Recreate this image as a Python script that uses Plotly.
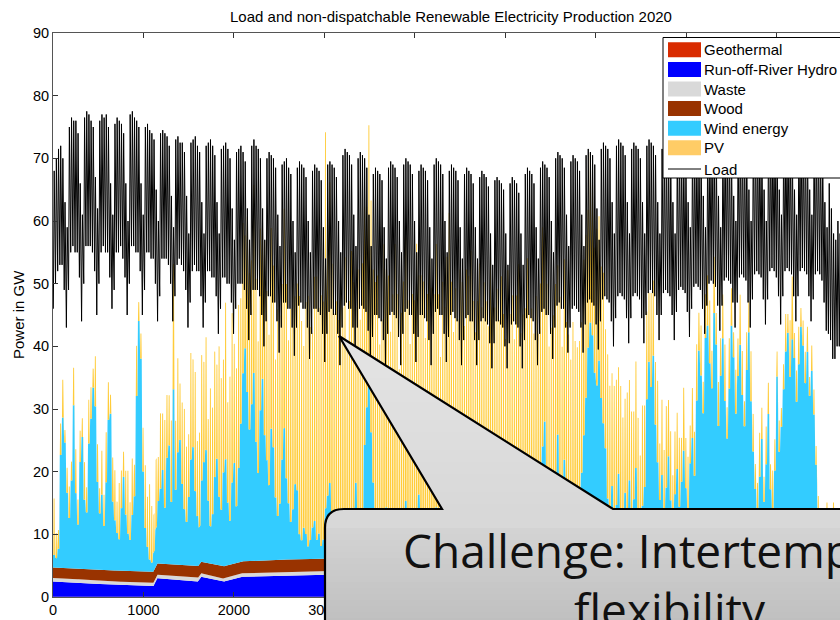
import plotly.graph_objects as go

# ---------------- data ----------------
# daily load maximum (GW), weeks of 7 days (Mon..Sun)
load_peak_gw = [
    68, 70, 71.5, 72, 70, 63, 59,
    75, 76.5, 76, 76, 74, 66, 61,
    76.5, 77.5, 77, 76, 75, 67, 62,
    76, 77, 76.5, 77, 75, 66, 61,
    75.5, 76.5, 76, 75.5, 74, 66, 60,
    77, 77.5, 76.5, 76, 75, 66, 61,
    75, 75.5, 74.5, 74, 73, 65, 60,
    74, 74.5, 74, 73.5, 72, 64, 59,
    73, 73.5, 72.5, 72.5, 71, 64, 58,
    72.5, 73, 73.5, 72, 71, 63, 58,
    72, 72.5, 73, 72, 70.5, 63, 58,
    71.5, 72, 72.5, 71.5, 70, 62, 57,
    71, 71.5, 72, 71, 69.5, 62, 57,
    72, 73, 72, 71.5, 70, 62, 57,
    70, 71, 70.5, 70, 68.5, 61, 56,
    69, 69.5, 70, 68.5, 67.5, 60, 55,
    68.5, 69.5, 69, 68.5, 67, 60, 55,
    68, 69, 68.5, 68, 66.5, 59, 54,
    69, 69.5, 69, 68.5, 67, 60, 55,
    70.5, 71.5, 71, 70.5, 69, 61, 56,
    70, 71, 70.5, 70, 68.5, 61, 56,
    67.5, 68.5, 68, 67.5, 66.5, 59, 54,
    68.5, 69.5, 69, 68.5, 67, 60, 55,
    69, 70, 69.5, 69, 67.5, 60, 55,
    68, 69, 68.5, 68, 66.5, 59, 54,
    69, 70, 69.5, 69, 67.5, 60, 55,
    68, 69, 68.5, 68, 66.5, 59, 54,
    67.5, 68.5, 68, 67.5, 66, 59, 54,
    67, 68, 67.5, 67, 65.5, 58, 53,
    66.5, 67, 66.5, 66, 65, 58, 53,
    66, 67, 66.5, 66, 64.5, 58, 53,
    67.5, 68.5, 68, 67.5, 66, 59, 54,
    68.5, 69.5, 69, 68.5, 67, 60, 55,
    70, 71, 70.5, 70, 68.5, 61, 56,
    69.5, 70.5, 70, 69.5, 68, 61, 56,
    70.5, 71.5, 71, 70.5, 69, 62, 57,
    71.5, 72.5, 72, 71.5, 70, 63, 58,
    72, 73, 72.5, 72, 70.5, 63, 58,
    71.5, 72.5, 72, 71.5, 70, 63, 58,
    72, 73, 72.5, 72, 70.5, 63, 58,
    71.5, 72.5, 72, 71.5, 70, 63, 58,
    71.5, 72.5, 72, 71.5, 70, 63, 59,
    72, 73, 72.5, 72, 71, 64, 59,
    72.5, 73.5, 73, 72.5, 71, 64, 59,
    72.5, 73.5, 73, 72.5, 71.5, 64, 60,
    73, 74, 73.5, 73, 72, 65, 60,
    73.5, 74.5, 74, 73.5, 72, 65, 60,
    73.5, 74.5, 74, 74, 72.5, 65, 61,
    73.5, 74.5, 74, 73.5, 72, 65, 61,
    73.5, 74.5, 74, 73.5, 72, 65, 61,
    72.5, 73.5, 73, 72, 70, 63, 59,
    66, 62, 58, 57, 60, 58, 56,
    60,
]

# daily load minimum (GW), early morning
load_trough_gw = [
    46, 50, 52, 53, 53, 49, 43,
    49, 55, 56, 55, 55, 51, 44,
    50, 56, 56, 56, 55, 52, 45,
    50, 55, 56, 55, 55, 51, 46,
    49, 55, 55, 56, 54, 51, 45,
    50, 56, 56, 55, 55, 52, 45,
    49, 55, 55, 54, 54, 50, 44,
    48, 54, 54, 54, 53, 50, 44,
    48, 53, 54, 53, 52, 49, 43,
    47, 52, 53, 52, 52, 48, 43,
    47, 52, 52, 51, 51, 48, 42,
    46, 51, 51, 50, 50, 47, 42,
    46, 50, 50, 50, 49, 46, 41,
    45, 49, 49, 49, 48, 45, 40,
    44, 48, 48, 47, 47, 44, 39,
    43, 47, 47, 46, 46, 43, 38.5,
    43, 46.5, 47, 46, 46, 43, 38,
    42, 46, 46, 45.5, 45, 42, 37.5,
    42, 45.5, 46, 45, 45, 42, 37,
    43, 46.5, 47, 46, 46, 43, 38,
    43, 46, 46.5, 46, 45.5, 42.5, 38,
    41.5, 45, 45, 44.5, 44, 41, 36.5,
    42, 45, 45.5, 45, 44.5, 41.5, 37,
    42, 45.5, 46, 45, 45, 42, 37.5,
    41.5, 45, 45, 44.5, 44, 41, 37,
    42, 45.5, 46, 45, 45, 42, 37.5,
    41.5, 45, 45.5, 44.5, 44, 41, 37,
    41, 44.5, 45, 44, 44, 41, 37,
    41, 44, 44.5, 44, 43.5, 40.5, 36.5,
    40.5, 44, 44, 43.5, 43, 40, 36.5,
    40.5, 43.5, 44, 43.5, 43, 40, 36.5,
    41, 44.5, 45, 44.5, 44, 41, 37,
    42, 45.5, 46, 45, 45, 42, 38,
    43, 46.5, 47, 46, 46, 43, 39,
    43, 46, 46.5, 46, 45.5, 43, 39,
    43.5, 47, 47.5, 47, 46.5, 43.5, 39.5,
    44, 47.5, 48, 47.5, 47, 44, 40,
    44.5, 48, 48.5, 48, 47.5, 44.5, 40.5,
    44.5, 48, 48.5, 48, 47.5, 44.5, 40.5,
    45, 48.5, 49, 48.5, 48, 45, 41,
    45, 48.5, 49, 48.5, 48, 45, 41,
    45.5, 49, 49.5, 49, 48.5, 45.5, 41.5,
    46, 49.5, 50, 49.5, 49, 46, 42,
    46.5, 50, 50.5, 50, 49.5, 46.5, 42.5,
    46.5, 50.5, 51, 50.5, 50, 47, 43,
    47, 51, 51.5, 51, 50.5, 47, 43,
    47.5, 51.5, 52, 51.5, 51, 47.5, 43.5,
    47.5, 52, 52.5, 52, 51, 48, 43.5,
    48, 52, 52.5, 52, 51.5, 48, 44,
    48, 52, 52.5, 52, 51.5, 48, 44,
    47.5, 51.5, 52, 51.5, 50.5, 47, 42.5,
    42, 41, 38, 38, 40, 40, 39,
    40,
]

# daily wind energy (GW, stacked on the base layers)
wind_gw = [
    2, 1.5, 3, 18, 24, 20, 12,
    8, 14, 26, 12, 7, 17, 21,
    11, 9, 20, 24, 29, 26, 14,
    9, 12, 7, 14, 24, 25, 11,
    8, 6, 5, 10, 15, 9, 6,
    5, 9, 12, 28, 40, 34, 16,
    7, 4, 2, 1.5, 3, 6, 10,
    12, 15, 9, 17, 19, 10, 28,
    12, 18, 20, 13, 9, 7, 11,
    17, 19, 12, 8, 6, 13, 16,
    18, 10, 6, 8, 14, 17, 11,
    9, 15, 17, 10, 7, 13, 16,
    9, 15, 22, 30, 34, 27, 21,
    25, 30, 19, 14, 24, 29, 20,
    16, 12, 21, 18, 10, 7, 9,
    16, 21, 13, 9, 6, 8, 12,
    11, 4, 3, 5, 4, 2, 3,
    5, 6, 3, 4, 2, 3, 8,
    10, 12, 7, 4, 3, 5, 2,
    3, 6, 4, 2, 5, 8, 12,
    6, 3, 4, 18, 24, 28, 20,
    12, 5, 3, 4, 2, 6, 8,
    4, 3, 5, 7, 3, 2, 4,
    6, 9, 5, 3, 2, 4, 7,
    10, 6, 3, 2, 5, 4, 3,
    6, 8, 4, 2, 3, 5, 9,
    12, 7, 4, 3, 2, 4, 6,
    3, 5, 8, 4, 2, 3, 5,
    7, 4, 2, 3, 6, 9, 5,
    3, 2, 4, 6, 3, 5, 8,
    4, 3, 2, 5, 7, 4, 3,
    6, 10, 8, 4, 3, 5, 7,
    12, 18, 22, 10, 6, 4, 8,
    14, 20, 9, 5, 16, 12, 6,
    4, 7, 10, 5, 8, 14, 20,
    26, 34, 38, 36, 30, 28, 32,
    26, 22, 18, 10, 8, 12, 6,
    9, 14, 7, 5, 11, 8, 13,
    6, 10, 15, 8, 5, 9, 12,
    26, 32, 28, 33, 22, 16, 10,
    14, 8, 12, 17, 10, 6, 11,
    15, 9, 13, 18, 12, 8, 16,
    20, 14, 26, 34, 30, 24, 36,
    38, 32, 28, 40, 35, 22, 30,
    36, 26, 20, 28, 38, 33, 24,
    30, 35, 27, 22, 31, 37, 26,
    18, 12, 8, 14, 20, 10, 16,
    24, 12, 9, 15, 30, 18, 22,
    28, 34, 37, 30, 36, 33, 26,
    32, 38, 35, 29, 34, 27, 31,
    24, 16, 6, 4, 3, 5, 7,
    4, 3, 6, 5, 3, 4, 6,
    5,
]

# daily PV midday level (GW, stacked on wind)
pv_gw = [
    9, 4, 3, 5, 6, 2, 4,
    5, 3, 6, 7, 4, 5, 3,
    6, 4, 7, 5, 3, 8, 6,
    4, 7, 5, 8, 6, 3, 7,
    8, 5, 9, 6, 4, 7, 10,
    6, 9, 5, 8, 3, 4, 7,
    10, 8, 12, 9, 6, 11, 7,
    12, 9, 14, 10, 8, 13, 20,
    11, 15, 9, 13, 16, 12, 10,
    17, 14, 19, 12, 15, 20, 16,
    18, 13, 22, 17, 20, 15, 24,
    21, 18, 25, 16, 23, 27, 19,
    22, 26, 20, 24, 18, 28, 25,
    23, 30, 26, 21, 29, 25, 31,
    27, 24, 32, 29, 22, 33, 30,
    28, 35, 31, 26, 34, 36, 30,
    33, 38, 35, 29, 37, 40, 34,
    31, 39, 42, 36, 40, 38, 60,
    44, 48, 40, 35, 38, 33, 41,
    37, 42, 30, 39, 44, 36, 28,
    40, 35, 43, 38, 32, 41, 37,
    34, 39, 42, 30, 36, 44, 38,
    41, 33, 37, 43, 39, 28, 35,
    38, 42, 36, 31, 40, 37, 43,
    35, 39, 41, 33, 37, 44, 40,
    36, 42, 38, 30, 41, 35, 39,
    43, 37, 32, 40, 36, 42, 38,
    34, 41, 37, 45, 39, 33, 36,
    40, 36, 42, 38, 31, 39, 35,
    37, 41, 34, 39, 36, 30, 38,
    35, 39, 33, 37, 40, 32, 36,
    34, 38, 31, 36, 33, 37, 29,
    32, 35, 30, 34, 28, 33, 31,
    30, 27, 33, 29, 32, 26, 30,
    28, 31, 25, 29, 27, 24, 28,
    26, 22, 27, 24, 20, 25, 23,
    21, 24, 19, 23, 20, 18, 22,
    20, 17, 21, 18, 15, 19, 16,
    18, 14, 17, 15, 12, 16, 13,
    14, 11, 15, 12, 10, 13, 9,
    12, 10, 13, 9, 11, 8, 10,
    9, 11, 7, 10, 8, 9, 6,
    8, 7, 9, 6, 8, 5, 7,
    8, 10, 6, 9, 5, 7, 6,
    7, 9, 5, 8, 6, 4, 7,
    6, 8, 7, 4, 6, 5, 8,
    6, 4, 5, 7, 5, 4, 6,
    5, 4, 6, 5, 4, 5, 3,
    4, 6, 3, 9, 10, 4, 5,
    6, 3, 4, 5, 4, 3, 4,
    4, 3, 5, 4, 3, 4, 3,
    4, 3, 4, 3, 4, 3, 4,
    3,
]

# slowly varying base layers: breakpoints (hour) and level (GW)
geo_hours = [0, 8760]
geo_gw = [0.02, 0.02]
hydro_hours = [0, 400, 520, 1070, 1110, 1150, 1600, 1640, 1880, 2070, 2500, 3000, 4000, 5000, 6000, 7000, 8000, 8760]
hydro_gw = [2.45, 2.2, 2.05, 1.65, 1.7, 3.0, 2.45, 3.2, 2.4, 3.2, 3.4, 3.6, 3.8, 3.6, 3.2, 2.8, 2.6, 2.5]
waste_hours = [0, 8760]
waste_gw = [0.55, 0.55]
wood_hours = [0, 1000, 2000, 3000, 8760]
wood_gw = [1.7, 1.75, 1.9, 2.0, 2.0]

x_tick_vals = [0, 1000, 2000, 3000, 4000, 5000, 6000, 7000, 8000]
# labels from 4000 on lie under the callout box in the reference
x_tick_text = ["0", "1000", "2000", "3000", "", "", "", "", ""]
y_tick_vals = [0, 10, 20, 30, 40, 50, 60, 70, 80, 90]

legend_names = ["Geothermal", "Run-off-River Hydro", "Waste", "Wood", "Wind energy", "PV", "Load"]
legend_colors = ["#d92b00", "#0000ff", "#d9d9d9", "#993300", "#33ccff", "#ffcc66", "#000000"]

TITLE = "Load and non-dispatchable Renewable Electricity Production 2020"
Y_LABEL = "Power in GW"
CALLOUT_LINES = ["Challenge: Intertemporal", "flexibility"]

# ---------------- build hourly positions ----------------
HOURS_PER_DAY = 24
TROUGH_HOUR, PEAK_HOUR = 4, 13
SUN_HOURS = [3, 7, 17, 21]       # PV zero at 3h and 21h, midday level 7h..17h
SUN_ON = [False, True, True, False]

n_days = min(len(load_peak_gw), len(load_trough_gw))
load_x, load_y = [], []
for d in range(n_days):
    load_x += [d * HOURS_PER_DAY + TROUGH_HOUR, d * HOURS_PER_DAY + PEAK_HOUR]
    load_y += [load_trough_gw[d], load_peak_gw[d]]

n_sun = min(len(wind_gw), len(pv_gw))
sun_x, wind_y, pv_y = [], [], []
for d in range(n_sun):
    for h, on in zip(SUN_HOURS, SUN_ON):
        sun_x.append(d * HOURS_PER_DAY + h)
        wind_y.append(wind_gw[d])
        pv_y.append(pv_gw[d] if on else 0)

fig = go.Figure()
stack = [
    ("Geothermal", geo_hours, geo_gw, "#d92b00"),
    ("Run-off-River Hydro", hydro_hours, hydro_gw, "#0000ff"),
    ("Waste", waste_hours, waste_gw, "#d9d9d9"),
    ("Wood", wood_hours, wood_gw, "#993300"),
    ("Wind energy", sun_x, wind_y, "#33ccff"),
    ("PV", sun_x, pv_y, "#ffcc3a"),
]
for name, xs, ys, col in stack:
    fig.add_trace(go.Scatter(
        x=xs, y=ys, name=name, mode="lines", stackgroup="re", stackgaps="interpolate",
        line=dict(width=0, color=col), fillcolor=col, hoverinfo="skip", showlegend=False))

fig.add_trace(go.Scatter(x=load_x, y=load_y, name="Load", mode="lines",
                         line=dict(color="black", width=1), hoverinfo="skip", showlegend=False))

# ---------------- geometry helpers (pixels -> paper) ----------------
FIG_W, FIG_H = 840, 620
PL, PT, PR, PB = 53, 33, 840, 597
PW, PH = PR - PL, PB - PT


def px(x):
    return (x - PL) / PW


def py(y):
    return (PB - y) / PH


shapes, annots = [], []

# legend
shapes.append(dict(type="rect", xref="paper", yref="paper", x0=px(663), x1=px(860), y0=py(37.5), y1=py(178),
                   fillcolor="white", line=dict(color="black", width=1), layer="above"))
for i, (nm, col) in enumerate(zip(legend_names, legend_colors)):
    cy = 49.8 + 19.6 * i if i < 6 else 169
    if nm == "Load":
        shapes.append(dict(type="line", xref="paper", yref="paper", x0=px(668), x1=px(701), y0=py(cy), y1=py(cy),
                           line=dict(color="black", width=1), layer="above"))
    else:
        shapes.append(dict(type="rect", xref="paper", yref="paper", x0=px(668), x1=px(701), y0=py(cy - 7.5),
                           y1=py(cy + 7.5), fillcolor=col, line=dict(width=0), layer="above"))
    annots.append(dict(text=nm, xref="paper", yref="paper", x=px(702), y=py(cy), xanchor="left", yanchor="middle",
                       showarrow=False, font=dict(size=15, color="black", family="Liberation Sans, Arial")))

# callout
TIP = (339, 336)
BL, BR, BTOP, BLEFT, RAD = 442, 613, 509, 325, 19
FAR_X, FAR_Y = 880, 660


def gray(v):
    v = int(round(v))
    return f"rgb({v},{v},{v})"


outline = (f"M {px(BLEFT)},{py(FAR_Y)} L {px(BLEFT)},{py(BTOP + RAD)} "
           f"Q {px(BLEFT)},{py(BTOP)} {px(BLEFT + RAD)},{py(BTOP)} "
           f"L {px(BL)},{py(BTOP)} L {px(TIP[0])},{py(TIP[1])} L {px(BR)},{py(BTOP)} "
           f"L {px(FAR_X)},{py(BTOP)} L {px(FAR_X)},{py(FAR_Y)} Z")
shapes.append(dict(type="path", xref="paper", yref="paper", path=outline, fillcolor=gray(216),
                   line=dict(width=0), layer="above"))
step = 6
yb = TIP[1]
while yb < BTOP:
    y2 = min(yb + step + 0.8, BTOP)
    f1 = (yb - TIP[1]) / (BTOP - TIP[1])
    f2 = (y2 - TIP[1]) / (BTOP - TIP[1])
    xl1, xr1 = TIP[0] + (BL - TIP[0]) * f1, TIP[0] + (BR - TIP[0]) * f1
    xl2, xr2 = TIP[0] + (BL - TIP[0]) * f2, TIP[0] + (BR - TIP[0]) * f2
    pth = (f"M {px(xl1)},{py(yb)} L {px(xr1)},{py(yb)} L {px(xr2)},{py(y2)} L {px(xl2)},{py(y2)} Z")
    shapes.append(dict(type="path", xref="paper", yref="paper", path=pth,
                       fillcolor=gray(228 - 12 * f1), line=dict(width=0), layer="above"))
    yb += step
yb = BTOP + RAD
while yb < FIG_H + 5:
    f = (yb - BTOP) / (FIG_H - BTOP)
    shapes.append(dict(type="rect", xref="paper", yref="paper", x0=px(BLEFT + 0.5), x1=px(FAR_X),
                       y0=py(yb), y1=py(yb + step + 0.8), fillcolor=gray(215 - 24 * f),
                       line=dict(width=0), layer="above"))
    yb += step
shapes.append(dict(type="path", xref="paper", yref="paper", path=outline, fillcolor="rgba(0,0,0,0)",
                   line=dict(color="black", width=2.2), layer="above"))

annots.append(dict(text=CALLOUT_LINES[0], xref="paper", yref="paper", x=px(670), y=py(550), xanchor="center",
                   yanchor="middle", showarrow=False, font=dict(size=46, color="#111111", family="Open Sans")))
annots.append(dict(text=CALLOUT_LINES[1], xref="paper", yref="paper", x=px(670), y=py(609), xanchor="center",
                   yanchor="middle", showarrow=False, font=dict(size=46, color="#111111", family="Open Sans")))

annots.append(dict(text=TITLE, xref="paper", yref="paper", x=px(450.5), y=py(16.5), xanchor="center",
                   yanchor="middle", showarrow=False, font=dict(size=15, color="black", family="Liberation Sans, Arial")))
annots.append(dict(text=Y_LABEL, xref="paper", yref="paper", x=px(18), y=py(315), xanchor="center",
                   yanchor="middle", textangle=-90, showarrow=False,
                   font=dict(size=15, color="black", family="Liberation Sans, Arial")))

axis_common = dict(ticks="inside", ticklen=5, tickwidth=1, tickcolor="#333333", showline=True, linewidth=1,
                   linecolor="#555555", showgrid=False, zeroline=False, automargin=False,
                   tickfont=dict(size=14.5, color="black", family="Liberation Sans, Arial"))

fig.update_layout(
    width=FIG_W, height=FIG_H,
    margin=dict(l=PL, r=FIG_W - PR, t=PT, b=FIG_H - PB, pad=0),
    plot_bgcolor="white", paper_bgcolor="white", showlegend=False,
    xaxis=dict(range=[0, 8700], tickvals=x_tick_vals, ticktext=x_tick_text, mirror="ticks", **axis_common),
    yaxis=dict(range=[0, 90], tickvals=y_tick_vals, **axis_common),
    shapes=shapes, annotations=annots,
)

fig.write_html("out.html", config={"displayModeBar": False, "staticPlot": True},
               post_script="document.body.style.margin='0px';document.body.style.overflow='hidden';")
